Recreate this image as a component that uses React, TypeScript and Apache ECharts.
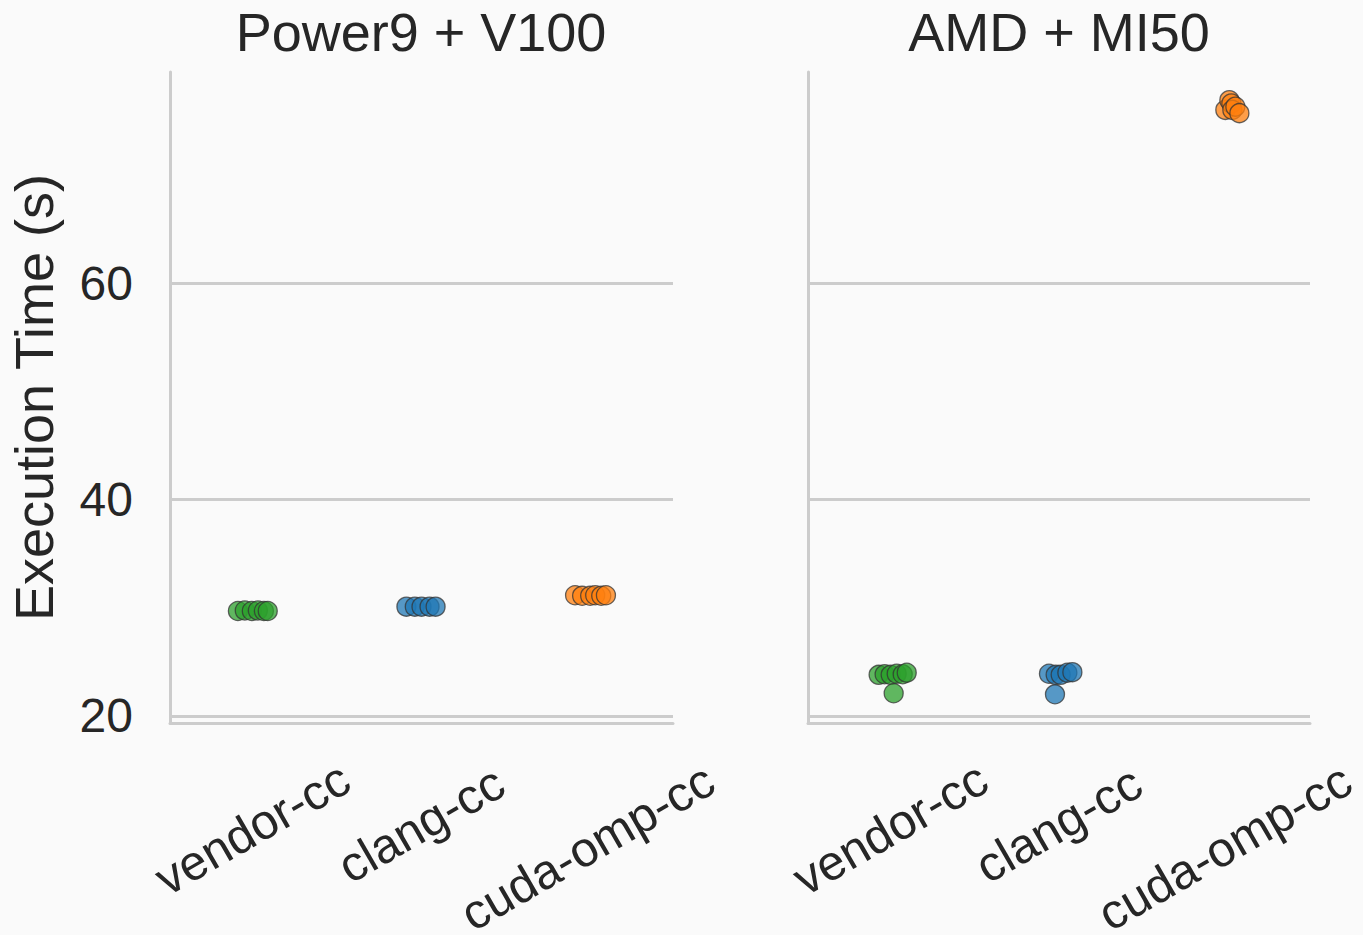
import React, { useEffect, useRef } from "react";
import * as echarts from "echarts";

const panelTitles = ["Power9 + V100", "AMD + MI50"];
const categories = ["vendor-cc", "clang-cc", "cuda-omp-cc"];
const yTicks = [20, 40, 60];
const colors = ["#2ca02c", "#1f77b4", "#ff7f0e"];

// [jitter offset (category units), execution time (s)]
const p9Vendor = [[-0.095, 29.7], [-0.054, 29.75], [-0.012, 29.7], [0.024, 29.75], [0.06, 29.7], [0.083, 29.7]];
const p9Clang = [[-0.09, 30.1], [-0.04, 30.1], [0.0, 30.1], [0.048, 30.1], [0.084, 30.1]];
const p9Cuda = [[-0.084, 31.15], [-0.042, 31.1], [0.006, 31.1], [0.036, 31.15], [0.072, 31.1], [0.1, 31.15]];
const amdVendor = [[-0.078, 23.8], [-0.042, 23.85], [-0.006, 23.8], [0.03, 23.9], [0.066, 23.85], [0.09, 24.0], [0.012, 22.1]];
const amdClang = [[-0.06, 23.9], [-0.02, 23.8], [0.01, 23.8], [0.05, 24.0], [0.08, 24.05], [-0.024, 22.0]];
const amdCuda = [[-0.006, 76.0], [0.018, 76.9], [0.03, 76.6], [0.036, 76.0], [0.054, 76.3], [0.078, 75.7]];

const panels = [
  [p9Vendor, p9Clang, p9Cuda],
  [amdVendor, amdClang, amdCuda],
];

// per-label padding [top, right, bottom, left] so each rotated label sits like the reference
const labelPadding = [
  [3, 36, 0, 0],
  [0, 30, 0, 0],
  [19, 55, 0, 0],
];

const FONT = "'Liberation Sans', Arial, sans-serif";
const GRID_COLOR = "#cccccc";
const TEXT_COLOR = "#262626";

export default function App() {
  const ref = useRef<HTMLDivElement>(null);
  useEffect(() => {
    if (!ref.current) return;
    const chart = echarts.init(ref.current, undefined, { renderer: "svg" });
    const grids = [
      { left: 170, right: 690, top: 72, bottom: 212, outerBoundsMode: "none", containLabel: false },
      { left: 808, right: 53, top: 72, bottom: 212, outerBoundsMode: "none", containLabel: false },
    ];
    const xAxis: any[] = [];
    const yAxis: any[] = [];
    const series: any[] = [];
    grids.forEach((g, gi) => {
      xAxis.push({
        type: "category",
        gridIndex: gi,
        data: categories.map((c, i) => ({
          value: c,
          textStyle: {
            padding: labelPadding[i],
            align: "center",
            verticalAlign: "top",
            lineHeight: 50,
          },
        })),
        boundaryGap: true,
        axisLine: { show: true, onZero: false, lineStyle: { color: GRID_COLOR, width: 3 } },
        axisTick: { show: false },
        splitLine: { show: false },
        axisLabel: {
          rotate: 30,
          align: "center",
          verticalAlign: "top",
          lineHeight: 50,
          margin: 72,
          fontSize: 49,
          color: TEXT_COLOR,
          fontFamily: FONT,
          interval: 0,
        },
      });
      xAxis.push({
        type: "value",
        gridIndex: gi,
        min: -0.5,
        max: 2.5,
        show: false,
      });
      yAxis.push({
        type: "value",
        gridIndex: gi,
        min: 19.35,
        max: 79.5,
        name: gi === 0 ? "Execution Time (s)" : "",
        nameLocation: "middle",
        nameGap: 109,
        nameTextStyle: { fontSize: 54, color: TEXT_COLOR, fontFamily: FONT },
        axisLine: { show: true, onZero: false, lineStyle: { color: GRID_COLOR, width: 3 } },
        axisTick: { show: false, customValues: yTicks },
        splitLine: { show: true, lineStyle: { color: GRID_COLOR, width: 3 } },
        axisLabel: {
          show: gi === 0,
          customValues: yTicks,
          margin: 37,
          fontSize: 48,
          color: TEXT_COLOR,
          fontFamily: FONT,
        },
      });
      panels[gi].forEach((pts, ci) => {
        series.push({
          type: "scatter",
          xAxisIndex: gi * 2 + 1,
          yAxisIndex: gi,
          symbolSize: 19,
          data: pts.map(([j, v]) => [ci + j, v]),
          itemStyle: {
            color: colors[ci],
            opacity: 0.75,
            borderColor: "#333333",
            borderWidth: 1.3,
          },
          emphasis: { disabled: true },
        });
      });
    });
    chart.setOption({
      animation: false,
      backgroundColor: "#fafafa",
      title: panelTitles.map((t, i) => ({
        text: t,
        left: i === 0 ? 416 : 1054,
        top: 0,
        textAlign: "center",
        textStyle: { fontSize: 54, fontWeight: "normal", color: TEXT_COLOR, fontFamily: FONT },
      })),
      grid: grids,
      xAxis,
      yAxis,
      series,
    });
    return () => chart.dispose();
  }, []);
  return <div ref={ref} style={{ width: 1363, height: 935, position: "absolute", left: 0, top: 0 }} />;
}
